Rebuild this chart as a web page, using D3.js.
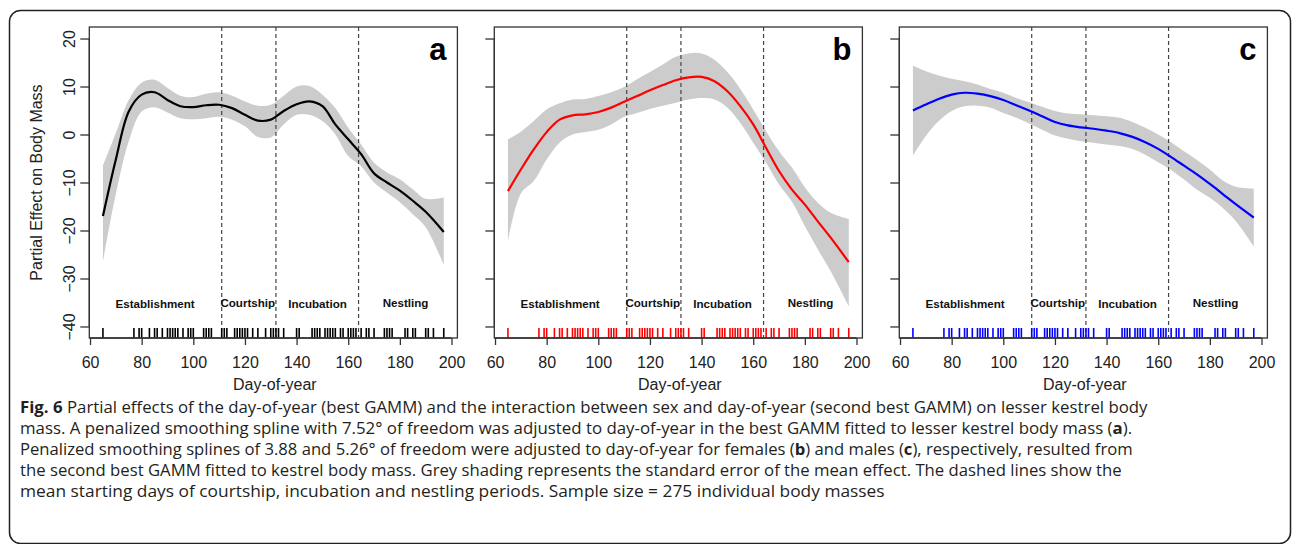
<!DOCTYPE html>
<html><head><meta charset="utf-8">
<script src="https://cdn.jsdelivr.net/npm/d3@7"></script>
<style>body{margin:0;background:#fff}svg{display:block}</style>
</head><body>
<svg id="chart" width="1293" height="544"></svg>
<script>
// ---------- data ----------
const days   = [65,70,75,80,85,90,95,100,105,110,115,120,125,130,135,140,145,150,155,160,165,170,175,180,185,190,197];
const fitA   = [-17,-5.2,4.8,8.3,8.8,7.2,5.9,5.7,6.1,6.2,5.5,4.1,2.9,3.1,4.9,6.3,6.9,5.9,2.1,-1.0,-4.1,-8.1,-10.0,-11.7,-13.8,-16.1,-20.3];
const upperA = [-6.5,0.3,7.2,10.8,11.4,9.7,8.1,7.8,8.5,8.8,8.1,6.9,6.0,6.2,8.1,10,10.1,8.3,5.5,1.4,-2.1,-5.9,-7.9,-9.3,-11.4,-13.4,-13.1];
const lowerA = [-26.5,-12.4,-1.4,4.8,5.7,4.6,3.4,3.2,3.4,3.7,3.1,1.7,-0.5,-0.6,2.1,4.1,4.1,2.8,0,-4.5,-6.6,-10,-12.1,-14.1,-16.6,-19.3,-27.2];
const fitB   = [-11.8,-7.3,-3.1,0.5,3.1,4.0,4.2,4.7,5.6,6.8,8.0,9.2,10.3,11.3,11.9,12.0,11.1,9.0,5.9,2.1,-2.8,-7.6,-11.5,-14.6,-18.1,-21.5,-26.6];
const upperB = [-1,0.6,2.8,5.2,6.5,7.3,7.4,8.0,8.8,9.9,11.5,13,14.6,16.2,16.9,16.9,15.6,13,9.5,5.2,0.7,-3.5,-6.9,-11,-14.2,-16.3,-17.6];
const lowerB = [-22.2,-12.3,-9.7,-5.2,-1.7,0,0.5,1.0,2.1,3.7,4.5,5.3,6.0,6.6,7.3,7.6,7.3,5.6,2.4,-1.7,-5.9,-10.4,-14,-19.1,-23.9,-28.5,-35.8];
const fitC   = [5.0,6.25,7.4,8.3,8.7,8.5,8.0,7.2,6.1,5.0,3.8,2.6,1.9,1.5,1.2,0.8,0.3,-0.5,-1.6,-3.0,-4.7,-6.5,-8.3,-10.3,-12.4,-14.5,-17.3];
const upperC = [14.4,13.2,12.3,11.6,11.1,10.4,9.5,8.7,7.6,6.7,5.8,4.9,4.4,4.2,4.0,3.8,3.5,2.6,1.4,0,-1.6,-3.5,-5.3,-7.3,-9.6,-10.9,-11.3];
const lowerC = [-4.4,-0.3,2.8,4.9,5.9,6.0,5.6,4.5,3.5,2.3,1.0,-0.2,-0.9,-1.4,-1.7,-2.1,-2.4,-3.0,-4.2,-5.8,-7.4,-9.4,-11.5,-13.2,-15.3,-18,-23.3];
const rugDays = [65,77,79,80,83,85,86,88,90,91,92,93,94,96,98,99,100,104,105,106,107,111,112,113,116,117,118,119,120,121,123,125,128,130,131,132,133,135,140,141,146,147,148,149,151,152,153,154,155,157,158,160,161,162,163,165,167,168,170,174,175,176,177,182,183,185,186,190,191,193,197];
const phaseStarts = [111,132,164];
const phaseNames  = ["Establishment","Courtship","Incubation","Nestling"];
const phaseLabelDays = [85.2,121.1,148.1,182.2];
const panelLetters = ["a","b","c"];
const panelColors  = ["#000000","#ff0000","#0000ff"];
const xTicks = [60,80,100,120,140,160,180,200];
const yTicks = [-40,-30,-20,-10,0,10,20];
const xLabel = "Day-of-year";
const yLabel = "Partial Effect on Body Mass";
const captionLines = [
  [["Fig. 6",true],[" Partial effects of the day-of-year (best GAMM) and the interaction between sex and day-of-year (second best GAMM) on lesser kestrel body",false]],
  [["mass. A penalized smoothing spline with 7.52° of freedom was adjusted to day-of-year in the best GAMM fitted to lesser kestrel body mass (",false],["a",true],[").",false]],
  [["Penalized smoothing splines of 3.88 and 5.26° of freedom were adjusted to day-of-year for females (",false],["b",true],[") and males (",false],["c",true],["), respectively, resulted from",false]],
  [["the second best GAMM fitted to kestrel body mass. Grey shading represents the standard error of the mean effect. The dashed lines show the",false]],
  [["mean starting days of courtship, incubation and nestling periods. Sample size = 275 individual body masses",false]]
];
const captionLineEnds = [1148, 1133, 1133, 1122, 885];

const series = [
  {fit: fitA, upper: upperA, lower: lowerA},
  {fit: fitB, upper: upperB, lower: lowerB},
  {fit: fitC, upper: upperC, lower: lowerC}
];

// ---------- layout ----------
(function draw() {
const svg = d3.select("#chart");
const FONT = "'Liberation Sans', Arial, Helvetica, sans-serif";
svg.append("rect").attr("x",9.5).attr("y",10.5).attr("width",1281).attr("height",533)
  .attr("rx",11).attr("fill","none").attr("stroke","#222").attr("stroke-width",1.5);

const panelLefts = [89.3, 494.3, 899.3];
const pw = 368.1, plotTop = 27, plotBottom = 338;
const xDomain = [59.72, 202.28];
const yDomain = [-42.4, 22.4];

series.forEach((s, i) => {
  const x = d3.scaleLinear().domain(xDomain).range([panelLefts[i], panelLefts[i] + pw]);
  const y = d3.scaleLinear().domain(yDomain).range([plotBottom, plotTop]);
  const g = svg.append("g");
  const pts = days.map((d, k) => ({d, f: s.fit[k], u: s.upper[k], l: s.lower[k]}));

  g.append("path").datum(pts)
    .attr("d", d3.area().x(p => x(p.d)).y0(p => y(p.l)).y1(p => y(p.u)).curve(d3.curveCatmullRom))
    .attr("fill", "#cccccc");

  g.selectAll(".ph").data(phaseStarts).join("line")
    .attr("x1", d => x(d)).attr("x2", d => x(d)).attr("y1", plotTop).attr("y2", plotBottom)
    .attr("stroke", "#444").attr("stroke-width", 1.2).attr("stroke-dasharray", "4,3");

  g.append("path").datum(pts)
    .attr("d", d3.line().x(p => x(p.d)).y(p => y(p.f)).curve(d3.curveCatmullRom))
    .attr("fill", "none").attr("stroke", panelColors[i]).attr("stroke-width", 2.2);

  g.selectAll(".rug").data(rugDays).join("line")
    .attr("x1", d => x(d)).attr("x2", d => x(d)).attr("y1", plotBottom - 10).attr("y2", plotBottom)
    .attr("stroke", panelColors[i]).attr("stroke-width", 1.6);

  g.selectAll(".pl").data(phaseNames).join("text")
    .attr("x", (d, k) => x(phaseLabelDays[k]))
    .attr("y", (d, k) => (k === 1 || k === 3) ? 307 : 308.3)
    .attr("text-anchor", "middle").attr("font-family", FONT).attr("font-weight", "bold")
    .attr("font-size", 11.6).attr("fill", "#111").text(d => d);

  g.append("rect").attr("x", panelLefts[i]).attr("y", plotTop).attr("width", pw).attr("height", plotBottom - plotTop)
    .attr("fill", "none").attr("stroke", "#333").attr("stroke-width", 1.3);

  const xa = g.append("g").attr("transform", `translate(0,${plotBottom})`)
    .call(d3.axisBottom(x).tickValues(xTicks).tickSize(7).tickPadding(3).tickFormat(d3.format("d")));
  xa.select(".domain").attr("d", `M${x(60)},0H${x(200)}`).attr("stroke", "#333").attr("stroke-width", 1.3);
  xa.selectAll(".tick line").attr("stroke", "#333").attr("stroke-width", 1.3);
  xa.selectAll(".tick text").attr("font-family", FONT).attr("font-size", 16).attr("fill", "#222")
    .attr("dy", null).attr("y", 30.3);

  const ya = g.append("g").attr("transform", `translate(${panelLefts[i]},0)`)
    .call(d3.axisLeft(y).tickValues(yTicks).tickSize(9).tickFormat(i === 0 ? d3.format("d") : ""));
  ya.select(".domain").attr("d", `M0,${y(-40)}V${y(20)}`).attr("stroke", "#333").attr("stroke-width", 1.3);
  ya.selectAll(".tick line").attr("stroke", "#333").attr("stroke-width", 1.3);
  ya.selectAll(".tick text").attr("font-family", FONT).attr("font-size", 16).attr("fill", "#222")
    .attr("x", null).attr("dy", null).attr("text-anchor", "middle")
    .attr("transform", "translate(-14.3,0) rotate(-90)");

  g.append("text").attr("x", panelLefts[i] + pw / 2 + 1.5).attr("y", 389.5)
    .attr("text-anchor", "middle").attr("font-family", FONT).attr("font-size", 16).attr("fill", "#222").text(xLabel);

  g.append("text").attr("x", panelLefts[i] + pw - 11).attr("y", 59.8)
    .attr("text-anchor", "end").attr("font-family", FONT).attr("font-weight", "bold")
    .attr("font-size", 31).attr("fill", "#000").text(panelLetters[i]);
});

svg.append("text").attr("transform", `translate(41.7,182.5) rotate(-90)`)
  .attr("text-anchor", "middle").attr("font-family", FONT).attr("font-size", 16).attr("fill", "#222").text(yLabel);

const capLeft = 20;
const baselines = [413.3, 434.3, 455.3, 476.3, 497.3];
captionLines.forEach((parts, li) => {
  const t = svg.append("text").attr("x", 0).attr("y", 0)
    .attr("font-family", "'Open Sans', Lato, sans-serif").attr("font-size", 15.6).attr("fill", "#231f20");
  parts.forEach(([str, bold]) => t.append("tspan").attr("font-weight", bold ? "bold" : "normal").text(str));
  const w = t.node().getComputedTextLength();
  const sx = (captionLineEnds[li] - capLeft) / w;
  t.attr("transform", `translate(${capLeft},${baselines[li]}) scale(${sx},1)`);
});
})();
</script>
</body></html>
